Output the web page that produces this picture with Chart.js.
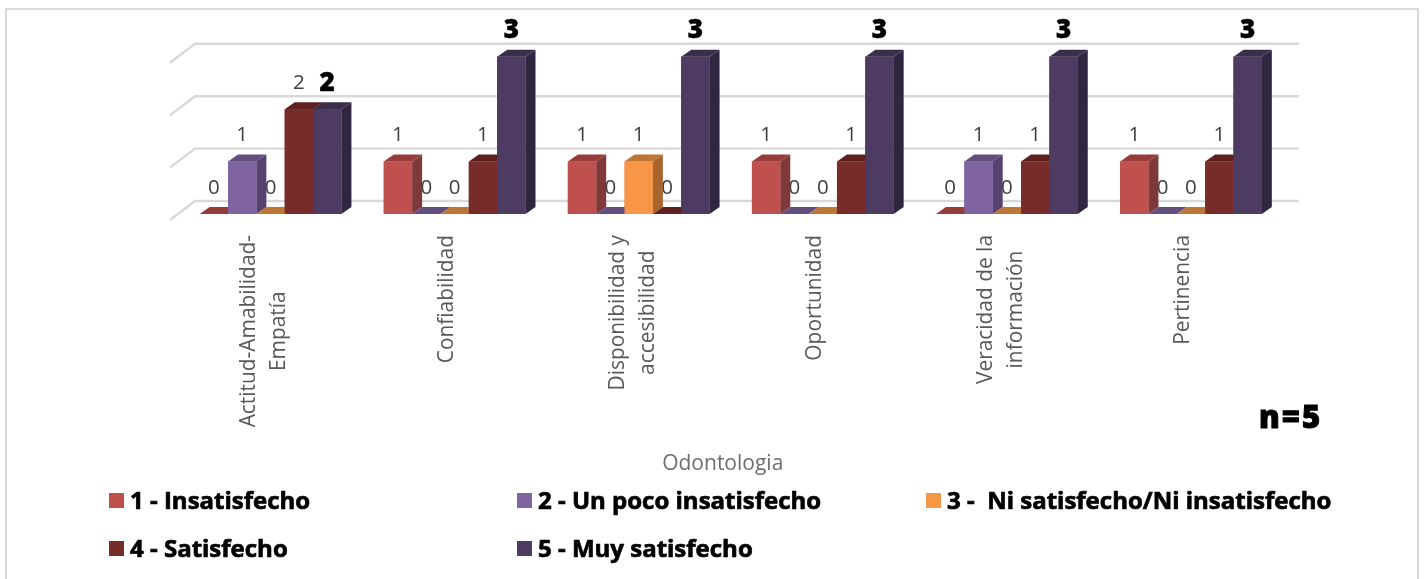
<!DOCTYPE html>
<html lang="es">
<head>
<meta charset="utf-8">
<title>Odontologia</title>
<script src="https://cdn.jsdelivr.net/npm/chart.js@4/dist/chart.umd.min.js"></script>
<style>
  html, body { margin: 0; padding: 0; background: #fff; }
  #frame { position: absolute; left: 5px; top: 8px; width: 1414px; height: 571px;
           border: 2px solid #d9d9d9; border-bottom: none; box-sizing: border-box; }
  #wrap { position: absolute; left: 0; top: 0; width: 1425px; height: 579px; }
  .key { position: absolute; font: 700 24px "Open Sans", sans-serif; color: #000;
         -webkit-text-stroke: 0.7px #000; white-space: pre; line-height: 30px; }
  .swatch { position: absolute; width: 15px; height: 15px; }
  #note { position: absolute; left: 1259px; top: 396px; font: 800 31px "Open Sans", sans-serif;
          letter-spacing: 2px; color: #000; -webkit-text-stroke: 1px #000; line-height: 40px; white-space: pre; }
</style>
</head>
<body>
<div id="frame"></div>
<div id="wrap"><canvas id="chart" width="1425" height="579"></canvas></div>
<div id="note">n=5</div>
<script>
const categories = [
  ['Actitud-Amabilidad-', 'Empatía'],
  ['Confiabilidad'],
  ['Disponibilidad y', 'accesibilidad'],
  ['Oportunidad'],
  ['Veracidad de la', 'información'],
  ['Pertinencia']
];
const axisTitle = 'Odontologia';
const seriesNames = [
  '1 - Insatisfecho',
  '2 - Un poco insatisfecho',
  '3 -  Ni satisfecho/Ni insatisfecho',
  '4 - Satisfecho',
  '5 - Muy satisfecho'
];
const insatisfecho     = [0, 1, 1, 1, 0, 1];
const unPoco           = [1, 0, 0, 0, 1, 0];
const neutro           = [0, 0, 1, 0, 0, 0];
const satisfecho       = [2, 1, 0, 1, 1, 1];
const muySatisfecho    = [2, 3, 3, 3, 3, 3];
const gridValues       = [0, 1, 2, 3];

const frontColors = ['#C0504D', '#8064A2', '#F79646', '#772C2A', '#4D3B62'];
const sideColors  = ['#80393A', '#56426F', '#A8652F', '#5A2120', '#30263F'];
const topColors   = ['#963D3A', '#634E80', '#BD7636', '#5E2120', '#3B2D4C'];
const legendSlots = [[109, 494], [517, 494], [926, 494], [109, 542], [517, 542]];

const DEPTH_X = 10, DEPTH_Y = 7;
const WALL_X = 25, WALL_BACK = 13, WALL_FRONT = 6;
const GRID_RIGHT = 1299;
const TEXT_FONT = '"Open Sans", sans-serif';

// Fake perspective: wall lines behind the bars, value labels, side and top faces.
const perspective = {
  id: 'perspective',
  beforeDatasetsDraw(chart) {
    const ctx = chart.ctx, y = chart.scales.y, x = chart.scales.x;
    const left = 170;
    ctx.save();
    ctx.strokeStyle = '#d9d9d9';
    ctx.lineWidth = 2.4;
    gridValues.forEach(v => {
      const py = y.getPixelForValue(v);
      ctx.beginPath();
      ctx.moveTo(left, py + WALL_FRONT);
      ctx.lineTo(left + WALL_X, py - WALL_BACK);
      ctx.lineTo(GRID_RIGHT, py - WALL_BACK);
      ctx.stroke();
    });

    // Category captions, each line centred on the longest one, reading upward
    ctx.fillStyle = '#595959';
    ctx.font = '20.9px ' + TEXT_FONT;
    ctx.textBaseline = 'middle';
    ctx.textAlign = 'center';
    categories.forEach((lines, i) => {
      const cx = x.getPixelForValue(i);
      const widest = Math.max(...lines.map(s => ctx.measureText(s).width));
      lines.forEach((line, k) => {
        ctx.save();
        const offset = lines.length === 1 ? -8 : (k === 0 ? -21 : 9);
        ctx.translate(cx + offset, 235 + widest / 2);
        ctx.rotate(-Math.PI / 2);
        ctx.fillText(line, 0, 0);
        ctx.restore();
      });
    });

    // Axis title, set slightly left of the plot centre
    ctx.fillStyle = '#6e6e6e';
    ctx.font = '21px ' + TEXT_FONT;
    ctx.fillText(axisTitle, (x.left + x.right) / 2 - 8, 464);

    // Value labels sit behind the bars, so the neighbouring side face can hide them
    chart.data.datasets.forEach((ds, di) => {
      const meta = chart.getDatasetMeta(di);
      meta.data.forEach((bar, i) => {
        const p = bar.getProps(['x', 'y']);
        const strong = di === 4;
        ctx.font = strong ? '800 26px ' + TEXT_FONT : '20.5px ' + TEXT_FONT;
        ctx.fillStyle = strong ? '#000' : '#404040';
        const lx = p.x, ly = p.y - 26;
        ctx.fillText(String(ds.data[i]), lx, ly);
        if (strong) {
          ctx.strokeStyle = '#000';
          ctx.lineWidth = 0.5;
          ctx.strokeText(String(ds.data[i]), lx, ly);
        }
      });
    });
    ctx.restore();
  },
  // Series are repainted first to last, so each bar covers the side face of the one before
  afterDatasetsDraw(chart) {
    const ctx = chart.ctx;
    chart.data.datasets.forEach((ds, di) => {
      chart.getDatasetMeta(di).data.forEach(bar => {
        const p = bar.getProps(['x', 'y', 'base', 'width']);
        const l = p.x - p.width / 2, r = p.x + p.width / 2;
        ctx.save();
        if (p.base - p.y > 0) {
          ctx.fillStyle = sideColors[di];
          ctx.beginPath();
          ctx.moveTo(r, p.y);
          ctx.lineTo(r + DEPTH_X, p.y - DEPTH_Y);
          ctx.lineTo(r + DEPTH_X, p.base - DEPTH_Y);
          ctx.lineTo(r, p.base);
          ctx.closePath();
          ctx.fill();
        }
        ctx.fillStyle = topColors[di];
        ctx.beginPath();
        ctx.moveTo(l, p.y);
        ctx.lineTo(l + DEPTH_X, p.y - DEPTH_Y);
        ctx.lineTo(r + DEPTH_X, p.y - DEPTH_Y);
        ctx.lineTo(r, p.y);
        ctx.closePath();
        ctx.fill();
        ctx.restore();
        bar.draw(ctx);
      });
    });
  }
};

const seriesValues = [insatisfecho, unPoco, neutro, satisfecho, muySatisfecho];

new Chart(document.getElementById('chart'), {
  type: 'bar',
  data: {
    labels: categories,
    datasets: seriesValues.map((values, i) => ({
      label: seriesNames[i],
      data: values,
      backgroundColor: frontColors[i],
      borderWidth: 0
    }))
  },
  options: {
    responsive: false,
    animation: false,
    layout: { padding: { left: 178.5, right: 142, top: 30.6, bottom: 365 } },
    categoryPercentage: 0.77,
    barPercentage: 1,
    plugins: { legend: { display: false }, tooltip: { enabled: false } },
    scales: {
      x: { display: false },
      y: { display: false, min: 0, max: 3.5 }
    }
  },
  plugins: [perspective]
});

// Legend laid out in three columns
seriesNames.forEach((name, i) => {
  const [sx, sy] = legendSlots[i];
  const box = document.createElement('div');
  box.className = 'swatch';
  box.style.cssText = `left:${sx}px;top:${sy - 1}px;background:${frontColors[i]}`;
  document.body.appendChild(box);
  const label = document.createElement('div');
  label.className = 'key';
  label.textContent = name;
  label.style.left = (sx + 21) + 'px';
  label.style.top = (sy - 9) + 'px';
  document.body.appendChild(label);
});
</script>
</body>
</html>
